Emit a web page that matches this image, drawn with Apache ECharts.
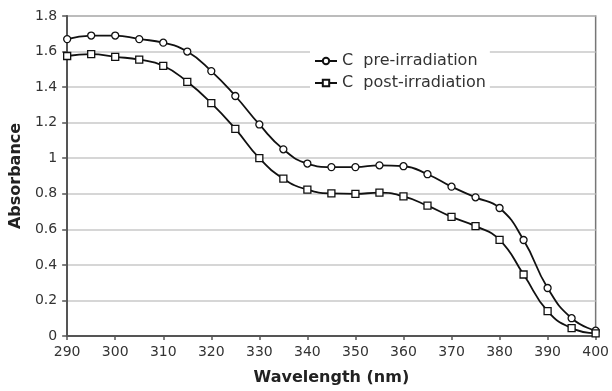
<!DOCTYPE html>
<html>
<head>
<meta charset="utf-8">
<script src="https://cdn.jsdelivr.net/npm/echarts@6/dist/echarts.min.js"></script>
<style>
html,body{margin:0;padding:0;background:#fff;}
#c{width:612px;height:391px;}
</style>
</head>
<body>
<div id="c"></div>
<script>
const wavelengths = [290,295,300,305,310,315,320,325,330,335,340,345,350,355,360,365,370,375,380,385,390,395,400];
const preIrradiation = [1.67,1.69,1.69,1.67,1.65,1.60,1.49,1.35,1.19,1.05,0.97,0.95,0.95,0.96,0.955,0.91,0.84,0.78,0.72,0.54,0.27,0.10,0.03];
const postIrradiation = [1.575,1.585,1.57,1.555,1.52,1.43,1.31,1.165,1.00,0.885,0.823,0.802,0.80,0.806,0.785,0.733,0.67,0.618,0.541,0.346,0.14,0.044,0.015];
const seriesNames = ['C  pre-irradiation','C  post-irradiation'];

const pairs = (ys) => wavelengths.map((x,i)=>[x, ys[i]]);
const font = '"DejaVu Sans", Verdana, sans-serif';

const chart = echarts.init(document.getElementById('c'), null, {renderer:'canvas'});
chart.setOption({
  animation:false,
  backgroundColor:'#fff',
  grid:{left:67,right:14,top:16,bottom:49,show:true,borderColor:'#777',borderWidth:1.5,containLabel:false},
  legend:{
    orient:'vertical', left:310, top:49,
    backgroundColor:'#fff', padding:[4,4],
    itemWidth:22, itemHeight:8, itemGap:6,
    textStyle:{fontFamily:font,fontSize:16,color:'#333'},
    data:seriesNames
  },
  xAxis:{
    type:'value', min:290, max:400, interval:10,
    name:'Wavelength (nm)', nameLocation:'middle', nameGap:34,
    nameTextStyle:{fontFamily:font,fontSize:16,fontWeight:'bold',color:'#222'},
    axisLine:{lineStyle:{color:'#555',width:2}},
    axisTick:{show:true,length:4,lineStyle:{color:'#555',width:1.5}},
    axisLabel:{fontFamily:font,fontSize:14,color:'#333',margin:9},
    splitLine:{show:false}
  },
  yAxis:{
    type:'value', min:0, max:1.8, interval:0.2,
    name:'Absorbance', nameLocation:'middle', nameGap:40, nameRotate:90,
    nameTextStyle:{fontFamily:font,fontSize:16,fontWeight:'bold',color:'#222'},
    axisLine:{show:true,lineStyle:{color:'#555',width:2}},
    axisTick:{show:true,length:5,lineStyle:{color:'#555',width:1.5}},
    axisLabel:{fontFamily:font,fontSize:14,color:'#333',margin:10},
    splitLine:{show:true,lineStyle:{color:'#c8c8c8',width:1.5}}
  },
  series:[
    {name:seriesNames[0],type:'line',data:pairs(preIrradiation),smooth:0.5,
     symbol:'circle',symbolSize:7,
     lineStyle:{color:'#111',width:1.8},
     itemStyle:{color:'#fff',borderColor:'#111',borderWidth:1.3}},
    {name:seriesNames[1],type:'line',data:pairs(postIrradiation),smooth:0.5,
     symbol:'rect',symbolSize:7,
     lineStyle:{color:'#111',width:1.8},
     itemStyle:{color:'#fff',borderColor:'#111',borderWidth:1.3}}
  ]
});
</script>
</body>
</html>
